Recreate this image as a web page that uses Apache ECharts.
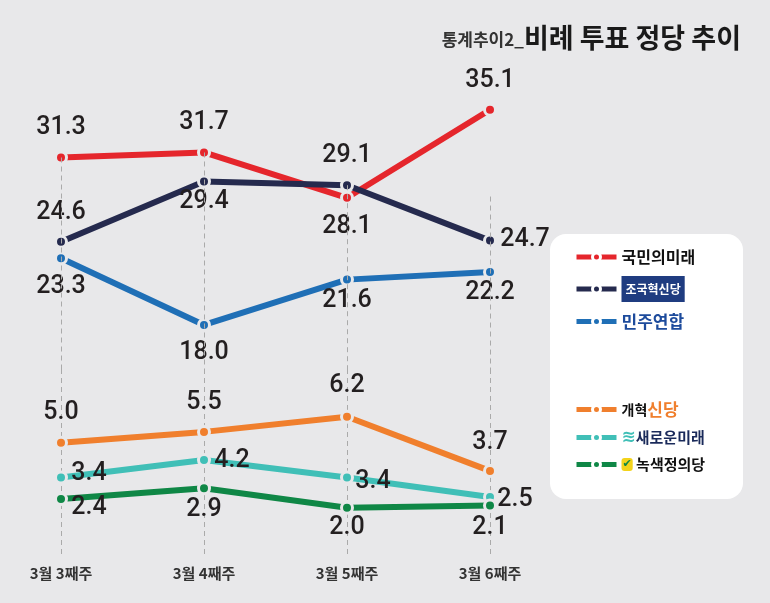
<!DOCTYPE html>
<html>
<head>
<meta charset="utf-8">
<script src="https://cdn.jsdelivr.net/npm/echarts@6/dist/echarts.min.js"></script>
<style>
  html, body { margin: 0; padding: 0; background: #e8e8ea; }
  #main { width: 770px; height: 603px; }
</style>
</head>
<body>
<div id="main"></div>
<script>
// 데이터
var weeks = ['3월 3째주', '3월 4째주', '3월 5째주', '3월 6째주'];
var topParties = ['국민의미래', '조국혁신당', '민주연합'];
var ppp = [31.3, 31.7, 28.1, 35.1];
var rebuild = [24.6, 29.4, 29.1, 24.7];
var democratic = [23.3, 18.0, 21.6, 22.2];
var bottomParties = ['개혁신당', '새로운미래', '녹색정의당'];
var reform = [5.0, 5.5, 6.2, 3.7];
var newFuture = [3.4, 4.2, 3.4, 2.5];
var greenJustice = [2.4, 2.9, 2.0, 2.1];
// 점선 시작 위치(상단 그래프 값 기준)
var guideTop = [31.3, 31.7, 29.1, 28.2];

var bg = '#e8e8ea';
var colors = ['#e5262c', '#252a4e', '#1f6fb6', '#f07f2d', '#40bfb7', '#0f8746'];

// 라벨 위치 (점 중심 기준 offset)
var offsets = [
    [[0, -30], [0, -30], [0, 29], [0, -29]],
    [[0, -29], [0, 20], [0, -29], [35, -1]],
    [[0, 29], [0, 28], [0, 21], [0, 21]],
    [[0, -30], [0, -29], [0, -31], [0, -28]],
    [[28, -4], [28, 1], [26, 4], [25, 3]],
    [[28, 9], [0, 21], [0, 20], [0, 22]]
];

function makeSeries(name, values, idx, grid) {
    var data = [];
    for (var i = 0; i < values.length; i++) {
        data.push({ value: values[i], label: { offset: offsets[idx][i] } });
    }
    return {
        name: name,
        type: 'line',
        xAxisIndex: grid,
        yAxisIndex: grid,
        data: data,
        z: 3,
        symbol: 'circle',
        symbolSize: 11,
        lineStyle: { width: 6, color: colors[idx] },
        itemStyle: { color: colors[idx], borderColor: bg, borderWidth: 3 },
        label: {
            show: true,
            position: 'inside',
            fontFamily: 'Roboto',
            fontWeight: 500,
            fontSize: 25,
            color: '#231f20',
            formatter: function (p) { return p.value.toFixed(1); }
        },
        emphasis: { disabled: true }
    };
}

var guideLines = [];
for (var i = 0; i < weeks.length; i++) {
    guideLines.push([{ coord: [i, guideTop[i]] }, { coord: [i, 14.5] }]);
}

var legendRich = {
    a: { fontFamily: 'Noto Sans CJK KR', fontSize: 16, fontWeight: 'bold', color: '#111', lineHeight: 24 },
    b: { fontFamily: 'Noto Sans CJK KR', fontSize: 12, fontWeight: 'bold', color: '#fff', backgroundColor: '#1f3c80', padding: [7, 4], lineHeight: 12 },
    c: { fontFamily: 'Noto Sans CJK KR', fontSize: 17, fontWeight: 'bold', color: '#1d4b9c', lineHeight: 24 },
    d1: { fontFamily: 'Noto Sans CJK KR', fontSize: 14, fontWeight: 'bold', color: '#111', lineHeight: 24 },
    d2: { fontFamily: 'Noto Sans CJK KR', fontSize: 17, fontWeight: 'bold', color: '#f07f2d', lineHeight: 24 },
    e1: { fontFamily: 'DejaVu Sans', fontSize: 17, fontWeight: 'bold', color: '#40bfb7', lineHeight: 24 },
    e2: { fontFamily: 'Noto Sans CJK KR', fontSize: 15, fontWeight: 'bold', color: '#1a2a5a', lineHeight: 24 },
    f1: { fontFamily: 'DejaVu Sans', fontSize: 11, fontWeight: 'bold', color: '#0f8746', backgroundColor: '#f3d31b', borderRadius: 3, padding: [1, 1], lineHeight: 13 },
    f2: { fontFamily: 'Noto Sans CJK KR', fontSize: 15, fontWeight: 'bold', color: '#111', lineHeight: 24 }
};

function legendName(name) {
    if (name == '국민의미래') return '{a|국민의미래}';
    if (name == '조국혁신당') return '{b|조국혁신당}';
    if (name == '민주연합') return '{c|민주연합}';
    if (name == '개혁신당') return '{d1|개혁}{d2|신당}';
    if (name == '새로운미래') return '{e1|≋}{e2|새로운미래}';
    return '{f1|✔}{f2| 녹색정의당}';
}

var myChart = echarts.init(document.getElementById('main'));
var option = {
    backgroundColor: bg,
    animation: false,
    title: {
        right: 24,
        top: 19,
        text: '{s|통계추이2_}{b|비례 투표 정당 추이}',
        textStyle: {
            rich: {
                s: { fontFamily: 'Noto Sans CJK KR', fontSize: 17, color: '#333', padding: [5, 0, 0, 0] },
                b: { fontFamily: 'Noto Sans CJK KR', fontSize: 27, fontWeight: 'bold', color: '#1a1a1a' }
            }
        }
    },
    graphic: [{
        type: 'rect',
        z: 0,
        shape: { x: 550, y: 234, width: 193, height: 265, r: 16 },
        style: { fill: '#fff' }
    }],
    legend: [{
        data: topParties,
        orient: 'vertical',
        left: 569,
        top: 244,
        itemWidth: 40,
        itemHeight: 10,
        itemGap: 11,
        itemStyle: { borderColor: '#fff', borderWidth: 3 },
        lineStyle: { width: 5 },
        selectedMode: false,
        formatter: legendName,
        textStyle: { rich: legendRich }
    }, {
        data: bottomParties,
        orient: 'vertical',
        left: 569,
        top: 396,
        itemWidth: 40,
        itemHeight: 10,
        itemGap: 11,
        itemStyle: { borderColor: '#fff', borderWidth: 3 },
        lineStyle: { width: 5 },
        selectedMode: false,
        formatter: legendName,
        textStyle: { rich: legendRich }
    }],
    grid: [
        { left: 61, width: 429, top: 48, height: 321 },
        { left: 61, width: 429, top: 369, height: 186.5 }
    ],
    xAxis: [{
        type: 'category',
        gridIndex: 0,
        data: weeks,
        boundaryGap: false,
        show: false
    }, {
        type: 'category',
        gridIndex: 1,
        data: weeks,
        boundaryGap: false,
        axisLine: { show: false },
        axisTick: { show: false },
        axisLabel: {
            margin: 10,
            fontFamily: 'Noto Sans CJK KR',
            fontSize: 15,
            fontWeight: 'bold',
            color: '#333'
        },
        splitLine: {
            show: true,
            interval: 0,
            lineStyle: { color: '#aaaaaa', type: [5, 4], width: 1 }
        }
    }],
    yAxis: [
        { type: 'value', gridIndex: 0, min: 14.5, max: 40, show: false },
        { type: 'value', gridIndex: 1, min: -0.2, max: 8.4, show: false }
    ],
    series: [
        {
            type: 'line',
            xAxisIndex: 0,
            yAxisIndex: 0,
            data: [],
            z: 1,
            silent: true,
            markLine: {
                silent: true,
                symbol: 'none',
                label: { show: false },
                lineStyle: { color: '#aaaaaa', type: [5, 4], width: 1 },
                data: guideLines
            }
        },
        makeSeries(topParties[0], ppp, 0, 0),
        makeSeries(topParties[1], rebuild, 1, 0),
        makeSeries(topParties[2], democratic, 2, 0),
        makeSeries(bottomParties[0], reform, 3, 1),
        makeSeries(bottomParties[1], newFuture, 4, 1),
        makeSeries(bottomParties[2], greenJustice, 5, 1)
    ]
};
myChart.setOption(option);
</script>
</body>
</html>
